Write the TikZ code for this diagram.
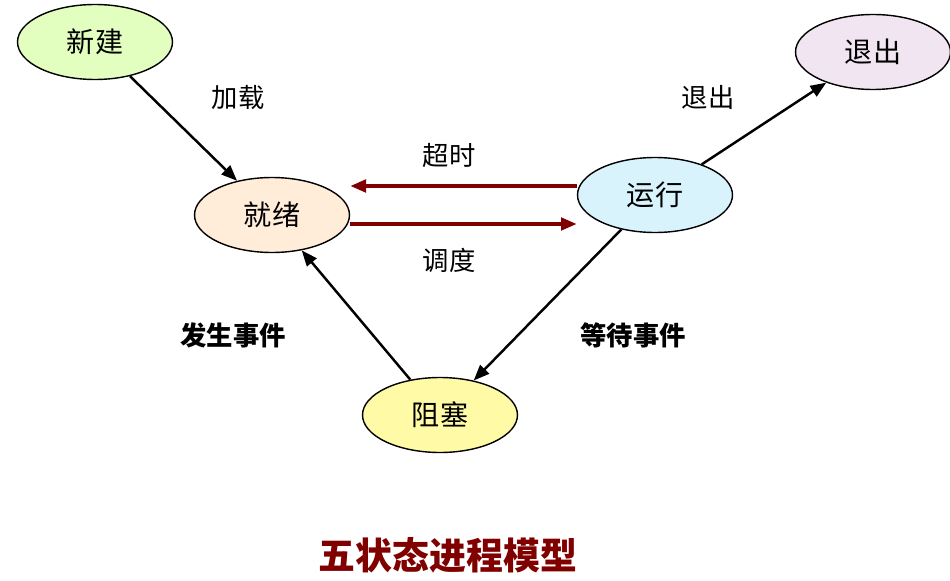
\documentclass[tikz,border=0pt]{standalone}
\usepackage{fontspec}
\newfontfamily\cjk{Noto Sans CJK SC}
\usetikzlibrary{shapes.geometric}
\usetikzlibrary{arrows.meta}
\definecolor{darkred}{RGB}{128,0,0}

\begin{document}
\begin{tikzpicture}[x=0.02cm,y=-0.02cm,
    state/.style={ellipse,draw,thick,minimum width=3.1cm,minimum height=1.5cm,
      font=\cjk\fontsize{16}{18}\selectfont},
    lbl/.style={font=\cjk\fontsize{15}{18}\selectfont},
    arr/.style={-{Triangle[length=9pt,width=7pt]},line width=1.4pt}]
    \useasboundingbox (0,0) rectangle (950,581);
    %
    \node[state,fill=green!45!yellow!25] (new) at (95,42) {新建};
    \node[state,fill=orange!15] (ready) at (272,215) {就绪};
    \node[state,fill=cyan!15] (run) at (655,195) {运行};
    \node[state,fill=violet!10] (exit) at (873,52) {退出};
    \node[state,fill=yellow!35] (block) at (440,415) {阻塞};
    %
    \draw[arr] (new) -- (ready);
    \draw[arr] (run) -- (exit);
    \draw[arr] (run) -- (block);
    \draw[arr] (block) -- (ready);
    \path (run.west) ++(0,-9) coordinate (t1);
    \path (run.west) ++(0,29) coordinate (t2);
    \draw[arr,darkred,line width=2.2pt] (t1) -- (t1 -| ready.east);
    \draw[arr,darkred,line width=2.2pt] (t2 -| ready.east) -- (t2);
    %
    \node[lbl] (l1) at (238,97) {加载};
    \node[lbl] (l2) at (708,97) {退出};
    \node[lbl] (l3) at (449,155) {超时};
    \node[lbl] (l4) at (449,260) {调度};
    \node[lbl,font=\cjk\bfseries\fontsize{15}{18}\selectfont] (l5) at (233,335) {发生事件};
    \node[lbl,font=\cjk\bfseries\fontsize{15}{18}\selectfont] (l6) at (633,335) {等待事件};
    \node[font=\cjk\bfseries\fontsize{21}{24}\selectfont,text=darkred] (title) at (448,555) {五状态进程模型};
\end{tikzpicture}
\end{document}
